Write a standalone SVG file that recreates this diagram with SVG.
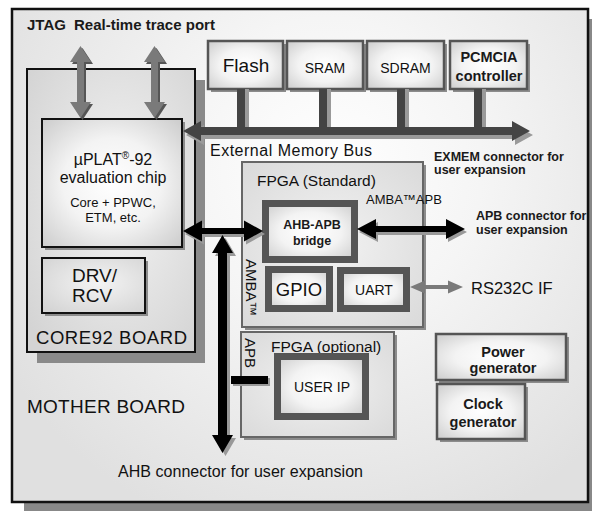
<svg xmlns="http://www.w3.org/2000/svg" width="592" height="511" viewBox="0 0 592 511">
<defs>
  <radialGradient id="gMB" gradientUnits="userSpaceOnUse" cx="330" cy="170" r="380">
    <stop offset="0" stop-color="#ffffff"/>
    <stop offset="0.4" stop-color="#f5f5f5"/>
    <stop offset="1" stop-color="#e0e0e0"/>
  </radialGradient>
  <radialGradient id="gCore" cx="0.55" cy="0.45" r="0.7">
    <stop offset="0" stop-color="#f4f4f4"/>
    <stop offset="1" stop-color="#d4d4d4"/>
  </radialGradient>
  <radialGradient id="gBox" cx="0.5" cy="0.5" r="0.7">
    <stop offset="0" stop-color="#ffffff"/>
    <stop offset="0.5" stop-color="#f3f3f3"/>
    <stop offset="1" stop-color="#cccccc"/>
  </radialGradient>
  <radialGradient id="gFpga" cx="0.5" cy="0.5" r="0.75">
    <stop offset="0" stop-color="#f2f2f2"/>
    <stop offset="1" stop-color="#d8d8d8"/>
  </radialGradient>
  <polygon id="aBus" points="183,131 201,121 201,127 512,127 512,121 530,131 512,141 512,135 201,135 201,141"/>
  <polygon id="aJtag" points="80.5,46 91,62 84,62 84,102 91,102 80.5,118 70,102 77,102 77,62 70,62"/>
  <polygon id="aAhbH" points="183,231 202,220.5 202,228 244,228 244,220.5 263,231 244,241.5 244,234 202,234 202,241.5"/>
  <polygon id="aAhbV" points="222.5,235 233,253 227,253 227,435 233,435 222.5,453 212,435 218,435 218,253 212,253"/>
  <polygon id="aApb" points="357,229 376,219 376,226 446,226 446,219 465,229 446,239 446,232 376,232 376,239"/>
  <polygon id="aUart" points="410,287 425,280.5 425,285 448,285 448,280.5 463,287 448,293.5 448,289 425,289 425,293.5"/>
</defs>
<style>
  text{font-family:"Liberation Sans",Arial,Helvetica,sans-serif;fill:#111}
  .b{font-weight:bold;fill:#1a1a1a}
  .m{text-anchor:middle}
  .box{fill:url(#gBox);stroke:#555;stroke-width:2.5}
  .thick{fill:url(#gBox);stroke:#555;stroke-width:7}
  .sh{fill:#8c8c8c}
  .fpga{fill:url(#gFpga);stroke:#666;stroke-width:2}
</style>

<g id="mother-board">
  <rect x="24" y="19" width="576" height="493" fill="#888"/>
  <rect x="12" y="9" width="576" height="493" fill="url(#gMB)" stroke="#111" stroke-width="2.5"/>
  <text x="27" y="30" class="b" font-size="15">JTAG</text>
  <text x="74" y="30" class="b" font-size="15">Real-time trace port</text>
  <text x="27" y="413" font-size="19" textLength="158">MOTHER BOARD</text>
</g>

<g id="core92-board">
  <rect x="37" y="80" width="168" height="283" fill="#8a8a8a"/>
  <rect x="27" y="69" width="168" height="283" fill="url(#gCore)" stroke="#111" stroke-width="2"/>
  <text x="36" y="344" font-size="18.5" textLength="151">CORE92 BOARD</text>
</g>

<g id="eval-chip">
  <rect x="45" y="122" width="140" height="128" class="sh"/>
  <rect x="42" y="119" width="140" height="128" fill="url(#gBox)" stroke="#111" stroke-width="2"/>
  <text x="113" y="165" class="m" font-size="16">µPLAT<tspan font-size="10" dy="-6">®</tspan><tspan dy="6">-92</tspan></text>
  <text x="113" y="183" class="m" font-size="16">evaluation chip</text>
  <text x="113" y="207" class="m" font-size="13">Core + PPWC,</text>
  <text x="113" y="222" class="m" font-size="13">ETM, etc.</text>
</g>

<g id="drv-rcv">
  <rect x="45" y="261" width="103" height="55" class="sh"/>
  <rect x="42" y="258" width="103" height="55" fill="url(#gCore)" stroke="#111" stroke-width="2"/>
  <text x="72" y="282" font-size="19">DRV/</text>
  <text x="72" y="302" font-size="19">RCV</text>
</g>

<g id="flash">
  <rect x="211" y="44" width="75" height="48" class="sh"/>
  <rect x="208" y="41" width="75" height="48" class="box"/>
  <text x="246" y="72" class="m" font-size="19">Flash</text>
</g>
<g id="sram">
  <rect x="290" y="44" width="76" height="48" class="sh"/>
  <rect x="287" y="41" width="76" height="48" class="box"/>
  <text x="325" y="73" class="m" font-size="14">SRAM</text>
</g>
<g id="sdram">
  <rect x="370" y="44" width="77" height="48" class="sh"/>
  <rect x="367" y="41" width="77" height="48" class="box"/>
  <text x="405.5" y="73" class="m" font-size="14">SDRAM</text>
</g>
<g id="pcmcia">
  <rect x="453" y="44" width="77" height="48" class="sh"/>
  <rect x="450" y="41" width="77" height="48" class="box"/>
  <text x="489" y="62" class="m b" font-size="14.5">PCMCIA</text>
  <text x="489" y="81" class="m b" font-size="14.5">controller</text>
</g>

<g id="fpga-standard">
  <rect x="245" y="165" width="181" height="165" class="sh"/>
  <rect x="242" y="162" width="181" height="165" class="fpga"/>
  <text x="257" y="186" font-size="15.5">FPGA (Standard)</text>
  <text transform="translate(246,259) rotate(90)" font-size="15">AMBA™</text>
</g>

<g id="ahb-apb-bridge">
  <rect x="268.5" y="206.5" width="89" height="56" fill="#999"/>
  <rect x="265.5" y="203.5" width="89" height="56" class="thick"/>
  <text x="312" y="229" class="m b" font-size="12.5">AHB-APB</text>
  <text x="312" y="245" class="m b" font-size="12.5">bridge</text>
</g>

<g id="gpio">
  <rect x="271.5" y="272.5" width="61" height="39" fill="#999"/>
  <rect x="268.5" y="269.5" width="61" height="39" class="thick"/>
  <text x="299" y="296" class="m" font-size="18.5">GPIO</text>
</g>

<g id="uart">
  <rect x="343.5" y="273.5" width="66" height="38" fill="#999"/>
  <rect x="340.5" y="270.5" width="66" height="38" class="thick"/>
  <text x="374" y="295" class="m" font-size="14">UART</text>
</g>

<g id="fpga-optional">
  <rect x="244" y="335" width="153" height="105" class="sh"/>
  <rect x="241" y="332" width="153" height="105" class="fpga"/>
  <text x="271" y="352" font-size="15.5">FPGA (optional)</text>
  <text transform="translate(245,338) rotate(90)" font-size="15">APB</text>
</g>

<g id="user-ip">
  <rect x="280.5" y="359.5" width="88" height="60" fill="#999"/>
  <rect x="277.5" y="356.5" width="88" height="60" class="thick"/>
  <text x="322" y="392" class="m" font-size="14">USER IP</text>
</g>

<g id="power-generator">
  <rect x="439" y="337" width="130" height="46" class="sh"/>
  <rect x="436" y="334" width="130" height="46" class="box"/>
  <text x="503" y="357" class="m b" font-size="14.5">Power</text>
  <text x="503" y="373" class="m b" font-size="14.5">generator</text>
</g>

<g id="clock-generator">
  <rect x="440" y="387" width="88" height="55" class="sh"/>
  <rect x="437" y="384" width="88" height="55" class="box"/>
  <text x="483" y="409" class="m b" font-size="14.5">Clock</text>
  <text x="483" y="427" class="m b" font-size="14.5">generator</text>
</g>

<g id="connectors">
  <g fill="#9a9a9a">
    <rect x="241" y="89" width="8" height="42"/>
    <rect x="323" y="89" width="8" height="42"/>
    <rect x="401" y="89" width="8" height="42"/>
    <rect x="478" y="89" width="8" height="42"/>
    <use href="#aBus" x="3" y="4"/>
  </g>
  <g fill="#444">
    <rect x="237" y="89" width="8" height="40"/>
    <rect x="319" y="89" width="8" height="40"/>
    <rect x="397" y="89" width="8" height="40"/>
    <rect x="474" y="89" width="8" height="40"/>
    <use href="#aBus"/>
  </g>
  <use href="#aJtag" x="2" y="2" fill="#555"/>
  <use href="#aJtag" fill="#7a7a7a"/>
  <use href="#aJtag" x="76" y="2" fill="#555"/>
  <use href="#aJtag" x="74" fill="#7a7a7a"/>
  <use href="#aAhbV" x="3" y="3" fill="#999"/>
  <use href="#aAhbH" x="2" y="3" fill="#999"/>
  <use href="#aAhbH" fill="#000"/>
  <use href="#aAhbV" fill="#000"/>
  <use href="#aApb" x="2" y="3" fill="#999"/>
  <use href="#aApb" fill="#000"/>
  <rect x="233" y="378" width="37" height="8" fill="#999"/>
  <rect x="231" y="376" width="37" height="8" fill="#000"/>
  <use href="#aUart" fill="#7a7a7a"/>
</g>

<g id="labels">
  <text x="210" y="156" font-size="16" textLength="162">External Memory Bus</text>
  <text x="434" y="161" class="b" font-size="12.5">EXMEM connector for</text>
  <text x="434" y="174" class="b" font-size="12.5">user expansion</text>
  <text x="366" y="204" font-size="13">AMBA™APB</text>
  <text x="476" y="220" class="b" font-size="12.5">APB connector for</text>
  <text x="476" y="234" class="b" font-size="12.5">user expansion</text>
  <text x="471" y="294" font-size="16.5">RS232C IF</text>
  <text x="118" y="477" font-size="16" textLength="245">AHB connector for user expansion</text>
</g>
</svg>
